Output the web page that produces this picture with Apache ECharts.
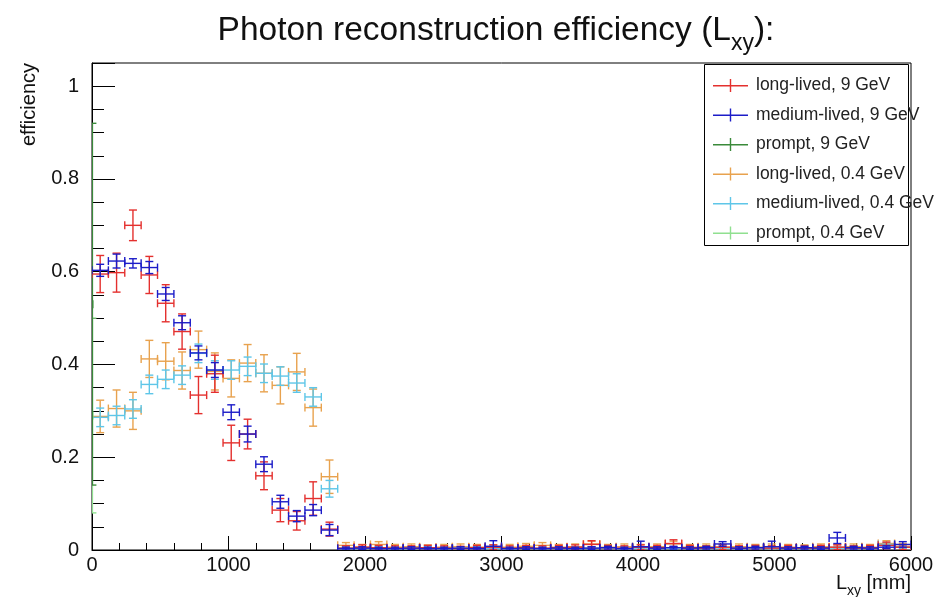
<!DOCTYPE html>
<html><head><meta charset="utf-8">
<script src="https://cdn.jsdelivr.net/npm/echarts@6/dist/echarts.min.js"></script>
<style>html,body{margin:0;padding:0;background:#fff}#c{width:938px;height:597px}</style>
</head><body><div id="c"></div>
<script>
// ---------------- data ----------------
const binCenters = [60,180,300,420,540,660,780,900,1020,1140,1260,1380,1500,1620,1740,1860,1980,2100,2220,2340,2460,2580,2700,2820,2940,3060,3180,3300,3420,3540,3660,3780,3900,4020,4140,4260,4380,4500,4620,4740,4860,4980,5100,5220,5340,5460,5580,5700,5820,5940];
const binHalfWidth = 60;

const longLived9 = [0.595,0.598,0.700,0.593,0.532,0.471,0.334,0.380,0.231,0.250,0.160,0.086,0.063,0.111,0.045,
  0.004,0.006,0.005,0.004,0.004,0.005,0.004,0.003,0.005,0.006,0.004,0.005,0.004,0.005,0.006,0.012,0.005,0.004,0.006,0.005,0.014,0.005,0.004,0.006,0.004,0.005,0.004,0.005,0.004,0.005,0.006,0.004,0.005,0.010,0.006];
const longLived9Err = [0.040,0.042,0.033,0.040,0.040,0.038,0.040,0.040,0.038,0.032,0.030,0.025,0.020,0.036,0.015,
  0.005,0.005,0.005,0.005,0.005,0.005,0.005,0.005,0.005,0.005,0.005,0.005,0.005,0.005,0.005,0.008,0.005,0.005,0.005,0.005,0.008,0.005,0.005,0.005,0.005,0.005,0.005,0.005,0.005,0.005,0.005,0.005,0.005,0.007,0.005];

const mediumLived9 = [0.603,0.623,0.618,0.609,0.552,0.490,0.425,0.388,0.297,0.250,0.185,0.104,0.073,0.086,0.043,
  0.003,0.004,0.003,0.003,0.004,0.003,0.003,0.004,0.003,0.008,0.003,0.004,0.003,0.004,0.003,0.004,0.005,0.003,0.007,0.004,0.005,0.004,0.005,0.013,0.004,0.005,0.007,0.004,0.005,0.004,0.026,0.005,0.004,0.006,0.012];
const mediumLived9Err = [0.013,0.015,0.010,0.013,0.014,0.015,0.015,0.016,0.016,0.017,0.016,0.014,0.012,0.012,0.012,
  0.003,0.003,0.003,0.003,0.003,0.003,0.003,0.003,0.003,0.012,0.003,0.003,0.003,0.003,0.003,0.003,0.003,0.003,0.012,0.003,0.003,0.003,0.003,0.005,0.003,0.003,0.012,0.003,0.003,0.003,0.012,0.003,0.003,0.003,0.006];

const longLived04 = [0.288,0.305,0.300,0.412,0.407,0.387,0.432,0.385,0.370,0.403,0.381,0.355,0.384,0.307,0.158,
  0.010,0.006,0.012,0.006,0.007,0.005,0.006,0.007,0.006,0.005,0.006,0.008,0.010,0.006,0.007,0.013,0.006,0.007,0.006,0.007,0.013,0.006,0.007,0.006,0.007,0.006,0.007,0.006,0.005,0.007,0.006,0.007,0.006,0.014,0.008];
const longLived04Err = [0.035,0.040,0.040,0.040,0.040,0.040,0.040,0.040,0.040,0.040,0.040,0.040,0.040,0.040,0.036,
  0.006,0.006,0.006,0.006,0.006,0.006,0.006,0.006,0.006,0.006,0.006,0.006,0.006,0.006,0.006,0.006,0.006,0.006,0.006,0.006,0.006,0.006,0.006,0.006,0.006,0.006,0.006,0.006,0.006,0.006,0.006,0.006,0.006,0.006,0.006];

const mediumLived04 = [0.286,0.290,0.304,0.357,0.368,0.377,0.424,0.388,0.388,0.396,0.381,0.375,0.360,0.330,0.132,
  0.004,0.003,0.004,0.003,0.003,0.004,0.003,0.003,0.004,0.003,0.003,0.004,0.003,0.004,0.003,0.004,0.004,0.003,0.004,0.003,0.004,0.004,0.003,0.004,0.003,0.004,0.003,0.004,0.003,0.004,0.004,0.003,0.004,0.012,0.006];
const mediumLived04Err = [0.020,0.020,0.020,0.020,0.020,0.020,0.020,0.020,0.020,0.020,0.020,0.020,0.020,0.020,0.018,
  0.003,0.003,0.003,0.003,0.003,0.003,0.003,0.003,0.003,0.003,0.003,0.003,0.003,0.003,0.003,0.003,0.003,0.003,0.003,0.003,0.003,0.003,0.003,0.003,0.003,0.003,0.003,0.003,0.003,0.003,0.003,0.003,0.003,0.004,0.003];

// prompt samples sit at Lxy ~ 0
const prompt9X = [3];
const prompt9 = [0.53];
const prompt9Err = [0.39];
const prompt04X = [3];
const prompt04 = [0.29];
const prompt04Err = [0.21];
const promptHalfWidth = 3;

const seriesNames = ['long-lived, 9 GeV','medium-lived, 9 GeV','prompt, 9 GeV','long-lived, 0.4 GeV','medium-lived, 0.4 GeV','prompt, 0.4 GeV'];
const xTicks = [0,1000,2000,3000,4000,5000,6000];
const yTickLabels = ['0','0.2','0.4','0.6','0.8','1'];

// ---------------- chart ----------------
const FONT = '"Liberation Sans", Arial, Helvetica, sans-serif';
const colors = ['#e4302e','#1c1cc8','#3a8a3a','#e8a24e','#5ec6e8','#90e090'];

function build(xs, ys, es, hw) {
  return ys.map((v, i) => [xs[i], v, es[i], hw]);
}
function errRender(color) {
  return function (params, api) {
    const x = api.value(0), y = api.value(1), e = api.value(2), hw = api.value(3);
    const c = api.coord([x, y]);
    const l = api.coord([x - hw, y]), r = api.coord([x + hw, y]);
    const t = api.coord([x, y + e]), b = api.coord([x, y - e]);
    const cap = 4;
    const st = { stroke: color, lineWidth: 1.4, fill: null };
    return {
      type: 'group',
      children: [
        { type: 'line', shape: { x1: l[0], y1: c[1], x2: r[0], y2: c[1] }, style: st },
        { type: 'line', shape: { x1: c[0], y1: t[1], x2: c[0], y2: b[1] }, style: st },
        { type: 'line', shape: { x1: c[0] - cap, y1: t[1], x2: c[0] + cap, y2: t[1] }, style: st },
        { type: 'line', shape: { x1: c[0] - cap, y1: b[1], x2: c[0] + cap, y2: b[1] }, style: st },
        { type: 'line', shape: { x1: l[0], y1: c[1] - cap, x2: l[0], y2: c[1] + cap }, style: st },
        { type: 'line', shape: { x1: r[0], y1: c[1] - cap, x2: r[0], y2: c[1] + cap }, style: st }
      ]
    };
  };
}
const dataSets = [
  build(binCenters, longLived9, longLived9Err, binHalfWidth),
  build(binCenters, mediumLived9, mediumLived9Err, binHalfWidth),
  build(prompt9X, prompt9, prompt9Err, promptHalfWidth),
  build(binCenters, longLived04, longLived04Err, binHalfWidth),
  build(binCenters, mediumLived04, mediumLived04Err, binHalfWidth),
  build(prompt04X, prompt04, prompt04Err, promptHalfWidth)
];
// draw order: low-energy first, then high-energy on top
const drawOrder = [3, 4, 5, 2, 0, 1];
const series = drawOrder.map(i => ({
  type: 'custom',
  name: seriesNames[i],
  xAxisIndex: 0, yAxisIndex: 0,
  clip: true,
  itemStyle: { color: colors[i] },
  renderItem: errRender(colors[i]),
  encode: { x: 0, y: 1 },
  data: dataSets[i]
}));

const crossIcon = 'path://M0,6L35,6L35,7.4L0,7.4Z M16.8,0L18.2,0L18.2,13L16.8,13Z';

const chart = echarts.init(document.getElementById('c'), null, { renderer: 'canvas' });
chart.setOption({
  animation: false,
  backgroundColor: '#fff',
  grid: { left: 92, right: 27, top: 63, bottom: 47, show: true, borderColor: '#000', borderWidth: 1, backgroundColor: 'transparent' },
  xAxis: {
    type: 'value', min: xTicks[0], max: xTicks[xTicks.length - 1], interval: 1000,
    axisLine: { show: true, onZero: false, lineStyle: { color: '#000', width: 1 } },
    axisTick: { show: true, inside: true, length: 14, lineStyle: { color: '#000' } },
    minorTick: { show: true, splitNumber: 5, length: 7, lineStyle: { color: '#000' } },
    splitLine: { show: false },
    axisLabel: { color: '#111', fontSize: 20, fontFamily: FONT, margin: 5, formatter: v => String(v) }
  },
  yAxis: [{
    type: 'value', min: 0, max: 1.05, interval: 0.2,
    axisLine: { show: true, onZero: false, lineStyle: { color: '#000', width: 1 } },
    axisTick: { show: true, inside: true, length: 23, lineStyle: { color: '#000' } },
    splitLine: { show: false },
    axisLabel: {
      color: '#111', fontSize: 20, fontFamily: FONT, margin: 13,
      formatter: v => { const k = Math.round(v / 0.2); return Math.abs(v - k * 0.2) < 1e-6 ? yTickLabels[k] : ''; }
    }
  }, {
    type: 'value', min: 0, max: 1.05, interval: 0.05, position: 'left',
    axisLine: { show: false },
    axisTick: { show: true, inside: true, length: 12, lineStyle: { color: '#000' } },
    splitLine: { show: false },
    axisLabel: { show: false }
  }],
  legend: {
    orient: 'vertical', left: 708, top: 71.5, z: 5,
    itemWidth: 35, itemHeight: 13, itemGap: 11.5,
    selectedMode: false,
    textStyle: { fontSize: 17.5, lineHeight: 18, color: '#222', fontFamily: FONT, padding: [0, 0, 0, 3] },
    data: seriesNames.map(n => ({ name: n, icon: crossIcon }))
  },
  graphic: [
    { type: 'rect', z: 3, shape: { x: 704.5, y: 64.5, width: 204, height: 181 }, style: { fill: '#fff', stroke: '#000', lineWidth: 1 } },
    { type: 'text', x: 496, y: 14, z: 5,
      style: { text: '{m|Photon reconstruction efficiency (L}{s|xy}{m|):}', align: 'center', verticalAlign: 'top', fill: '#111',
        rich: { m: { fontSize: 33.5, lineHeight: 36, verticalAlign: 'top', fontFamily: FONT, fill: '#111' },
                s: { fontSize: 23, lineHeight: 23, verticalAlign: 'top', padding: [18, 0, 0, 0], fontFamily: FONT, fill: '#111' } } } },
    { type: 'text', x: 29, y: 63, rotation: Math.PI / 2, z: 5,
      style: { text: 'efficiency', align: 'right', verticalAlign: 'middle', fontSize: 20, fontFamily: FONT, fill: '#111' } },
    { type: 'text', x: 911, y: 573, z: 5,
      style: { text: '{m|L}{s|xy}{m| [mm]}', align: 'right', verticalAlign: 'top', fill: '#111',
        rich: { m: { fontSize: 20, lineHeight: 22, verticalAlign: 'top', fontFamily: FONT, fill: '#111' },
                s: { fontSize: 14, lineHeight: 14, verticalAlign: 'top', padding: [11, 0, 0, 0], fontFamily: FONT, fill: '#111' } } } }
  ],
  series: series
});
</script>
</body></html>
